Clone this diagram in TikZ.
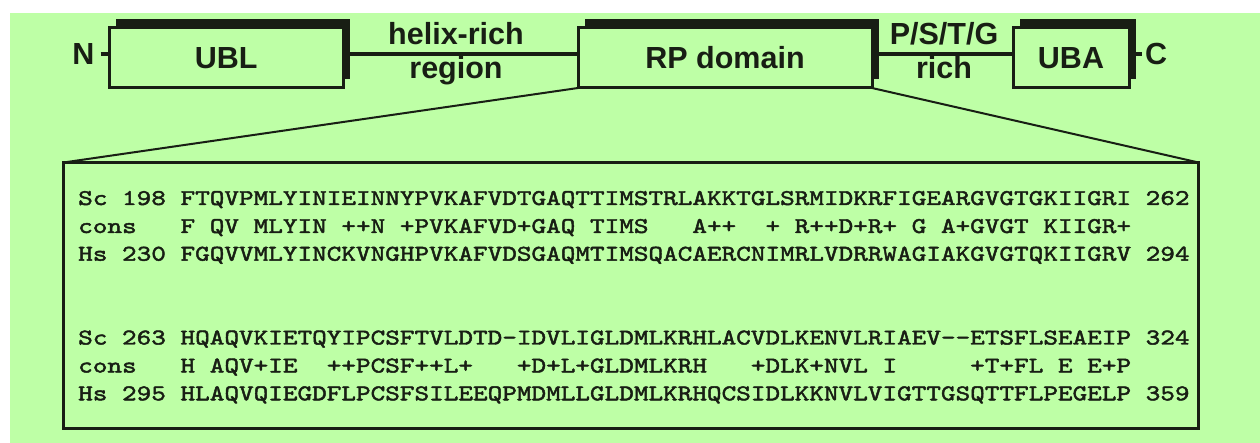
\documentclass[tikz,border=0pt]{standalone}
\usepackage{fontspec}
\setmainfont{Liberation Sans}
\newfontfamily\seqfont{lmmono10-regular}[Extension=.otf, FakeStretch=1.238, FakeBold=2]
\usetikzlibrary{shadows}
\definecolor{bggreen}{RGB}{190,255,166}
\definecolor{ink}{RGB}{24,30,20}
\begin{document}
\begin{tikzpicture}[x=1pt, y=-1pt,
  lbl/.style={font=\fontsize{30.5}{36}\selectfont\bfseries, text=ink, inner sep=0pt, outer sep=0pt},
  dombox/.style={draw=ink, line width=3pt, fill=bggreen, inner sep=0pt, outer sep=0pt,
    font=\fontsize{30.5}{36}\selectfont\bfseries, text=ink,
    general shadow={shadow xshift=6.5pt, shadow yshift=8.5pt, fill=ink}},
  conn/.style={draw=ink, line width=3.3pt},
  zoomline/.style={draw=ink, line width=2pt},
  seqbox/.style={draw=ink, line width=3pt, inner sep=0pt, outer sep=0pt},
  seq/.style={font=\seqfont\fontsize{22.5}{26}\selectfont, text=ink, inner sep=0pt, anchor=base west}
]
\useasboundingbox (0,0) rectangle (1260,443);
\fill[white] (0,0) rectangle (1260,443);
\fill[bggreen] (10,13) rectangle (1260,443);

% domain bar
\node[dombox, minimum width=233.5pt, minimum height=60.5pt] (ubl) at (226.25,57.75) {UBL};
\node[dombox, minimum width=294pt, minimum height=60.5pt] (rp) at (725,57.75) {RP domain};
\node[dombox, minimum width=116pt, minimum height=60.5pt] (uba) at (1071,57.75) {UBA};
\node[lbl] (n) at (83.5,54) {N};
\node[lbl] (c) at (1156,54) {C};

\draw[conn] ([xshift=6pt]n.east) -- (n.east -| ubl.west);
\draw[conn] (c.west -| uba.east) -- ([xshift=-3pt]c.west);
\draw[conn] ([yshift=3.75pt]ubl.east) -- ([yshift=3.75pt]rp.west);
\draw[conn] ([yshift=3.75pt]rp.east) -- ([yshift=3.75pt]uba.west);

\node[lbl, anchor=base] (helix) at (456,45) {helix-rich};
\node[lbl, anchor=base] (region) at (456,79) {region};
\node[lbl, anchor=base] (pstg) at (944,45) {P/S/T/G};
\node[lbl, anchor=base] (rich) at (944,79) {rich};

% sequence panel
\node[seqbox, minimum width=1135pt, minimum height=266pt] (panel) at (631,295.5) {};
\draw[zoomline] (rp.south west) -- (panel.north west);
\draw[zoomline] (rp.south east) -- (panel.north east);

\node[seq] (r1) at (78,205.0) {Sc~198~FTQVPMLYINIEINNYPVKAFVDTGAQTTIMSTRLAKKTGLSRMIDKRFIGEARGVGTGKIIGRI~262};
\node[seq] (r2) at (78,233.0) {cons~~~F~QV~MLYIN~++N~+PVKAFVD+GAQ~TIMS~~~A++~~+~R++D+R+~G~A+GVGT~KIIGR+};
\node[seq] (r3) at (78,260.7) {Hs~230~FGQVVMLYINCKVNGHPVKAFVDSGAQMTIMSQACAERCNIMRLVDRRWAGIAKGVGTQKIIGRV~294};
\node[seq] (r4) at (78,344.5) {Sc~263~HQAQVKIETQYIPCSFTVLDTD-IDVLIGLDMLKRHLACVDLKENVLRIAEV-{}-ETSFLSEAEIP~324};
\node[seq] (r5) at (78,372.5) {cons~~~H~AQV+IE~~++PCSF++L+~~~+D+L+GLDMLKRH~~~+DLK+NVL~I~~~~~+T+FL~E~E+P};
\node[seq] (r6) at (78,400.3) {Hs~295~HLAQVQIEGDFLPCSFSILEEQPMDMLLGLDMLKRHQCSIDLKKNVLVIGTTGSQTTFLPEGELP~359};
\end{tikzpicture}
\end{document}
